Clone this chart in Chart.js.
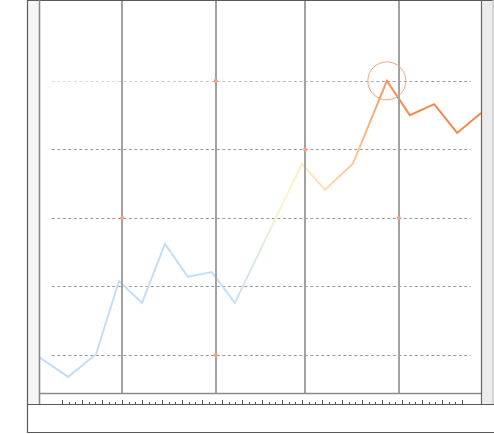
<!DOCTYPE html>
<html lang="en">
<head>
<meta charset="UTF-8">
<title>Chart</title>
<script src="https://cdn.jsdelivr.net/npm/chart.js"></script>
<style>
    body { margin: 0; background: #fff; }
    #box { width: 494px; height: 434px; }
</style>
</head>
<body>
<div id="box"><canvas id="myChart" width="494" height="434"></canvas></div>
<script>
    // series values
    const xValues = [0, 6.6, 12.9, 18.1, 23.3, 28.5, 33.7, 39.1, 44.3, 59.5, 64.7, 71.0, 78.7, 83.9, 89.4, 94.6, 100];
    const yValues = [97, 68, 101, 208, 176, 262, 214, 221, 176, 379, 341, 379, 500, 450, 466, 424, 453];

    // split lines
    const splitX = [18.8, 40.0, 60.2, 81.4];
    const splitY = [100, 200, 300, 400, 500];
    const dashFrom = 2.9;
    const dashTo = 97.7;

    // small markers on the split lines
    const markX = [40.0, 60.2, 18.8, 81.4, 40.0];
    const markY = [500, 400, 300, 300, 100];

    // highlighted peak
    const peakX = [78.7];
    const peakY = [500];

    // bottom ruler ticks
    const tickFrom = 5.2;
    const tickStep = 1.508;
    const tickCount = 61;

    const ctx = document.getElementById('myChart');

    function lineGradient(chart) {
        const a = chart.chartArea;
        if (!a) return '#c2defa';
        const x = chart.scales.x;
        const g = chart.ctx.createLinearGradient(a.left, 0, a.right, 0);
        const stop = (v, c) => g.addColorStop((x.getPixelForValue(v) - a.left) / (a.right - a.left), c);
        stop(0, '#c2ddf7');
        stop(44, '#c4e0f5');
        stop(56, '#fbf6c8');
        stop(64, '#fde0b2');
        stop(71, '#fcc995');
        stop(79, '#f7955a');
        stop(86, '#f5874a');
        stop(100, '#f5874a');
        return g;
    }

    const frame = {
        id: 'frame',
        beforeDraw(chart) {
            const c = chart.ctx, a = chart.chartArea;
            c.save();
            c.fillStyle = '#fff';
            c.fillRect(0, 0, chart.width, chart.height);
            c.fillStyle = '#f6f6f6';
            c.fillRect(a.left - 11, 0, 11, a.bottom + 11);
            c.fillStyle = '#ececec';
            c.fillRect(a.right, 0, chart.width - a.right, a.bottom + 11);
            c.restore();
        },
        beforeDatasetsDraw(chart) {
            const c = chart.ctx, x = chart.scales.x, y = chart.scales.y;
            const x0 = x.getPixelForValue(dashFrom), x1 = x.getPixelForValue(dashTo);
            c.save();
            c.lineWidth = 1;
            c.setLineDash([3, 2.5]);
            splitY.forEach(v => {
                const py = Math.round(y.getPixelForValue(v)) + 0.5;
                if (v === Math.max(...splitY)) {
                    const g = c.createLinearGradient(x0, 0, x1, 0);
                    g.addColorStop(0, '#e6ddd2');
                    g.addColorStop(0.45, '#c8c0b8');
                    g.addColorStop(1, '#9a9a9a');
                    c.strokeStyle = g;
                } else {
                    c.strokeStyle = '#9a9a9a';
                }
                c.beginPath();
                c.moveTo(x0, py);
                c.lineTo(x1, py);
                c.stroke();
            });
            c.restore();
        },
        afterDatasetDraw(chart, args) {
            if (args.index !== 0) return;
            const c = chart.ctx, a = chart.chartArea, x = chart.scales.x;
            c.save();
            c.strokeStyle = '#a2a2a2';
            c.lineWidth = 2;
            splitX.forEach(v => {
                const px = Math.round(x.getPixelForValue(v));
                c.beginPath();
                c.moveTo(px, 0);
                c.lineTo(px, a.bottom);
                c.stroke();
            });
            c.restore();
        },
        afterDraw(chart) {
            const c = chart.ctx, a = chart.chartArea, x = chart.scales.x;
            const band = a.bottom + 11;
            const outerLeft = a.left - 11.5;
            c.save();
            // outer box
            c.strokeStyle = '#5a5a5a';
            c.lineWidth = 1.2;
            c.beginPath();
            c.moveTo(chart.width, 0.5);
            c.lineTo(outerLeft, 0.5);
            c.lineTo(outerLeft, chart.height - 1.5);
            c.lineTo(chart.width, chart.height - 1.5);
            c.moveTo(outerLeft, band + 0.5);
            c.lineTo(chart.width, band + 0.5);
            c.stroke();
            // inner frame
            c.strokeStyle = '#8a8a8a';
            c.lineWidth = 1.6;
            c.beginPath();
            c.moveTo(a.left + 0.5, 0);
            c.lineTo(a.left + 0.5, band);
            c.moveTo(a.left, a.bottom + 0.5);
            c.lineTo(a.right, a.bottom + 0.5);
            c.stroke();
            c.strokeStyle = '#666';
            c.lineWidth = 1.2;
            c.beginPath();
            c.moveTo(a.right + 0.5, 0);
            c.lineTo(a.right + 0.5, band);
            c.stroke();
            c.strokeStyle = '#c8c8c8';
            c.beginPath();
            c.moveTo(chart.width - 1, 0);
            c.lineTo(chart.width - 1, band);
            c.stroke();
            // ruler ticks
            c.strokeStyle = '#555';
            c.lineWidth = 1;
            for (let i = 0; i < tickCount; i++) {
                const px = Math.round(x.getPixelForValue(tickFrom + i * tickStep)) + 0.5;
                const len = i % 3 === 0 ? 4 : 2;
                c.beginPath();
                c.moveTo(px, band);
                c.lineTo(px, band - len);
                c.stroke();
            }
            c.restore();
        }
    };

    new Chart(ctx, {
        type: 'line',
        data: {
            datasets: [{
                data: xValues.map((v, i) => ({ x: v, y: yValues[i] })),
                borderColor: (context) => lineGradient(context.chart),
                borderWidth: 2,
                pointRadius: 0,
                tension: 0,
                order: 2
            }, {
                type: 'scatter',
                data: peakX.map((v, i) => ({ x: v, y: peakY[i] })),
                pointRadius: 19,
                pointBackgroundColor: 'rgba(0,0,0,0)',
                pointBorderColor: '#f5a47c',
                pointBorderWidth: 1,
                order: 1
            }, {
                type: 'scatter',
                data: markX.map((v, i) => ({ x: v, y: markY[i] })),
                pointRadius: 2,
                pointBackgroundColor: '#f5a279',
                pointBorderWidth: 0,
                order: 0
            }]
        },
        options: {
            responsive: false,
            animation: false,
            events: [],
            layout: { autoPadding: false, padding: { left: 39, top: 0, right: 13, bottom: 41 } },
            plugins: { legend: { display: false }, tooltip: { enabled: false } },
            scales: {
                x: { type: 'linear', display: false, min: 0, max: 100 },
                y: { type: 'linear', display: false, min: 44.5, max: 618 }
            }
        },
        plugins: [frame]
    });
</script>
</body>
</html>
